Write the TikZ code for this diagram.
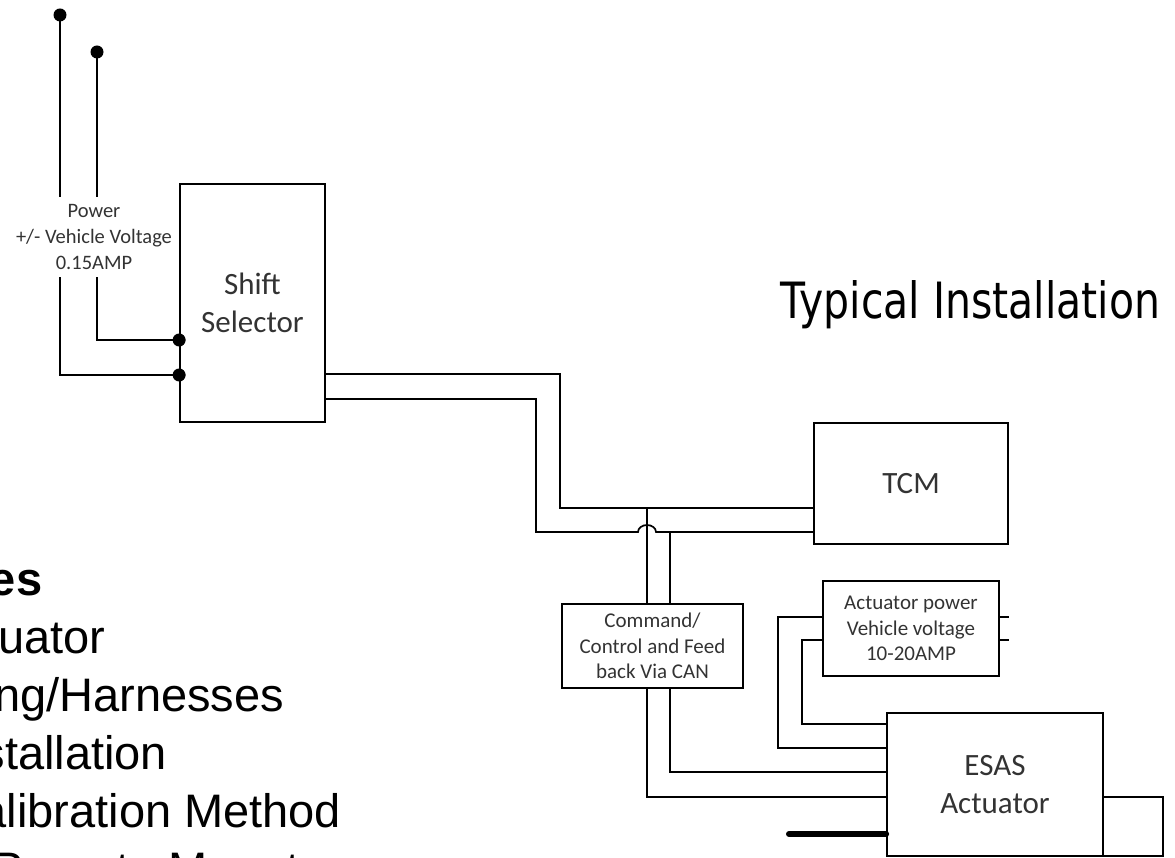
\documentclass[tikz,border=0pt]{standalone}
\usepackage{fontspec}
\setmainfont{Carlito}
\newfontfamily\headfont[FakeStretch=0.82]{DejaVu Sans}
\newfontfamily\listfont{Liberation Sans}

\begin{document}
\begin{tikzpicture}[x=1pt, y=-1pt, line width=1.7pt,
  box/.style={draw, inner sep=0pt, align=center, text=black!80,
    font=\fontsize{31}{38}\selectfont},
  smallbox/.style={box, font=\fontsize{21}{25.5}\selectfont},
  pin/.style={circle, fill, inner sep=0pt, minimum size=13pt},
  listline/.style={anchor=base east, inner sep=0pt,
    font=\listfont\fontsize{47}{56}\selectfont}]

  \useasboundingbox (0,0) rectangle (1175,858);

  \node[box, minimum width=145pt, minimum height=238pt] (sel) at (252.5,303) {Shift\\Selector};
  \node[box, minimum width=194pt, minimum height=121pt] (tcm) at (911,483.5) {TCM};
  \node[smallbox, minimum width=181pt, minimum height=84pt] (can) at (652.5,646) {Command/\\Control and Feed\\back Via CAN};
  \node[smallbox, minimum width=176pt, minimum height=95pt] (pwr) at (911,628.5) {Actuator power\\Vehicle voltage\\10-20AMP};
  \node[box, minimum width=216pt, minimum height=143pt] (esas) at (995,784.5) {ESAS\\Actuator};
  \node[box, minimum width=60pt, minimum height=59pt] (cover) at (1133,826.5) {};

  \node[align=center, inner sep=0pt, minimum height=79pt, text=black!80,
    font=\fontsize{20.5}{26}\selectfont] (plbl) at (94,237) {Power\\+/- Vehicle Voltage\\0.15AMP};
  \node[pin] (pa) at (60,15) {};
  \node[pin] (pb) at (97,52) {};

  \draw (pa.center) -- (pa |- plbl.north);
  \draw (pb.center) -- (pb |- plbl.north);
  \draw (pa |- plbl.south) |- (sel.west |- 0,375) node[pin] (ja) {};
  \draw (pb |- plbl.south) |- (sel.west |- 0,340) node[pin] (jb) {};

  \coordinate (j1) at (647,508);
  \coordinate (j2) at (670,532);
  \draw (sel.east |- 0,374) -| (560,508) -- (tcm.west |- 0,508);
  \draw (sel.east |- 0,399) -| (536,532) -- (638,532)
    arc[start angle=180, end angle=360, x radius=9, y radius=7] -- (tcm.west |- 0,532);
  \draw (j1) -- (j1 |- can.north);
  \draw (j2) -- (j2 |- can.north);
  \draw (j1 |- can.south) |- (esas.west |- 0,797);
  \draw (j2 |- can.south) |- (esas.west |- 0,772);

  \draw (pwr.west |- 0,617) -| (778,748) -- (esas.west |- 0,748);
  \draw (pwr.west |- 0,640) -| (802,724) -- (esas.west |- 0,724);
  \draw (pwr.east |- 0,617) -- ++(9,0);
  \draw (pwr.east |- 0,640) -- ++(9,0);

  \coordinate (lever) at (789,834);
  \draw[line width=6pt, line cap=round] (esas.west |- 0,834) -- (lever);

  \node[anchor=base west, inner sep=0pt, font=\headfont\fontsize{50}{60}\selectfont] (title) at (780,319) {Typical Installation};

  \node[listline, font=\listfont\bfseries\fontsize{47}{56}\selectfont] (l0) at (43,595) {es};
  \node[listline] (l1) at (106,653) {uator};
  \node[listline] (l2) at (285,711) {ng/Harnesses};
  \node[listline] (l3) at (168,769) {stallation};
  \node[listline] (l4) at (342,827) {alibration Method};
  \node[listline] (l5) at (300,885) {Remote Mount};

\end{tikzpicture}
\end{document}
